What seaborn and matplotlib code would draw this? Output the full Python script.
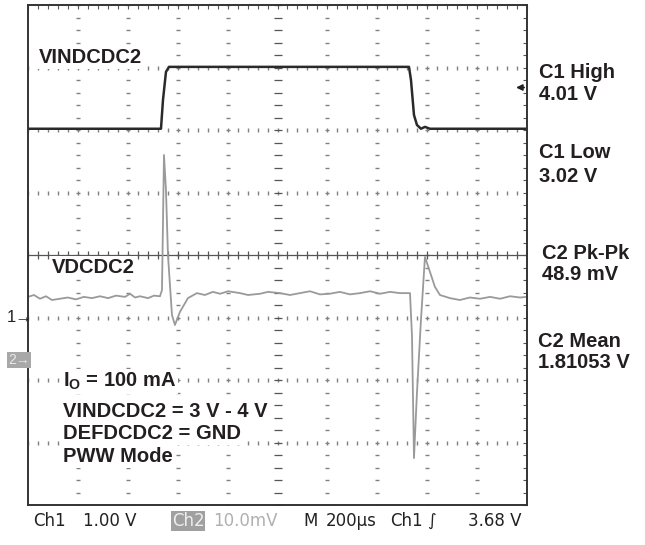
import matplotlib
matplotlib.use("Agg")
import matplotlib.pyplot as plt
import numpy as np
import pandas as pd
import seaborn as sns

# time base: 200 us/div, 10 div across the screen
t_lim = [0, 2000]
div_lim = [-4, 4]

# Ch1 - VINDCDC2 (volts), 1 V/div, ground marker at -1 div
ch1_t = [0, 533, 541, 553, 565, 589, 1527, 1535, 1547, 1559, 1575, 1591, 1611, 2000]
ch1_v = [3.02, 3.02, 3.48, 3.93, 4.01, 4.01, 4.01, 3.80, 3.24, 3.08, 3.02, 3.05, 3.02, 3.02]
ch1_volt_per_div = 1.0
ch1_ground_div = -1.0

# Ch2 - VDCDC2 (mV relative to screen centre), 10 mV/div
ch2_t = [0, 24, 48, 72, 96, 128, 160, 192, 224, 256, 289, 321, 353, 389, 409, 429, 449,
         481, 505, 529, 537, 545, 553, 561, 577, 589, 609,
         641, 677, 709, 741, 770, 802, 850, 882, 930, 962, 1010, 1050, 1090, 1130, 1170, 1210,
         1250, 1290, 1331, 1371, 1411, 1451, 1491, 1523, 1531, 1539, 1547,
         1559, 1575, 1591, 1611, 1631, 1651, 1691, 1731, 1771, 1812, 1852, 1892, 1932, 1972, 2000]
ch2_mv = [-6.7, -6.4, -7.0, -6.6, -7.2, -7.0, -6.8, -7.1, -6.7, -6.9, -6.6, -6.9, -6.5, -6.7, -6.2, -6.8, -6.6,
          -6.9, -6.5, -6.6, -5.6, 16.0, 10.4, 0.0, -9.6, -11.2, -9.1,
          -6.9, -6.1, -6.4, -5.9, -6.2, -5.8, -6.1, -6.4, -6.2, -5.9, -6.1, -6.4, -6.1, -5.8, -6.3, -6.2,
          -5.9, -6.3, -6.1, -5.8, -6.2, -5.9, -6.1, -6.1, -6.1, -12.9, -32.5,
          -22.0, -10.4, -0.3, -2.7, -5.1, -6.4, -6.9, -7.2, -6.8, -7.0, -6.7, -7.0, -6.6, -6.8, -6.7]
ch2_mv_per_div = 10.0

trigger_v = 3.68

meas_labels = ["C1 High", "4.01 V", "C1 Low", "3.02 V", "C2 Pk-Pk", "48.9 mV", "C2 Mean", "1.81053 V"]
info_lines = ["VINDCDC2 = 3 V - 4 V", "DEFDCDC2 = GND", "PWW Mode"]

sns.set_style("white")
plt.rcParams["font.family"] = ["Liberation Sans", "DejaVu Sans"]
plt.rcParams["mathtext.fontset"] = "custom"
plt.rcParams["mathtext.bf"] = "Liberation Sans:bold"
plt.rcParams["mathtext.rm"] = "Liberation Sans:bold"

W, H = 645, 545
fig = plt.figure(figsize=(6.45, 5.45), dpi=100)
ax = fig.add_axes([28 / W, 40 / H, 499 / W, 500 / H])

df1 = pd.DataFrame({"t": ch1_t, "div": np.array(ch1_v) / ch1_volt_per_div + ch1_ground_div})
df2 = pd.DataFrame({"t": ch2_t, "div": np.array(ch2_mv) / ch2_mv_per_div})

# graticule
grid_col = "#808080"
xs_fine = np.arange(0, 2001, 40)
ys_fine = np.arange(-4, 4.01, 0.2)
for gx in range(200, 2000, 200):
    if gx == 1000:
        continue
    ax.plot(np.full_like(ys_fine, gx), ys_fine, ls="none", marker="_", ms=3, mew=1.0, color=grid_col)
for gy in range(-3, 4):
    if gy == 0:
        continue
    ax.plot(xs_fine, np.full_like(xs_fine, gy, dtype=float), ls="none", marker="|", ms=3, mew=1.0, color=grid_col)
ax.axhline(0, color="#555555", lw=0.9)
ax.plot(xs_fine, np.zeros_like(xs_fine, dtype=float), ls="none", marker="|", ms=6, mew=0.9, color="#555555")
ax.plot(np.full_like(ys_fine, 1000), ys_fine, ls="none", marker="_", ms=6, mew=0.9, color="#555555")

sns.lineplot(data=df2, x="t", y="div", ax=ax, color="#9a9a9a", lw=1.3, estimator=None, sort=False)
sns.lineplot(data=df1, x="t", y="div", ax=ax, color="#2a2a2a", lw=1.8, estimator=None, sort=False)

# trigger level arrow on the right edge
trig_div = trigger_v / ch1_volt_per_div + ch1_ground_div
ax.annotate("", xy=(1945, trig_div), xytext=(2000, trig_div),
            arrowprops=dict(arrowstyle="-|>", color="#222222", lw=1.2, mutation_scale=9))

ax.set_xlim(t_lim)
ax.set_ylim(div_lim)
ax.set_xticks(xs_fine)
ax.set_yticks(ys_fine)
ax.tick_params(direction="in", length=3, width=0.8, color="#555555", top=True, right=True,
               labelbottom=False, labelleft=False)
ax.set_xlabel("")
ax.set_ylabel("")
for s in ax.spines.values():
    s.set_color("#333333")
    s.set_linewidth(1.4)

bold = dict(fontsize=14.5, fontweight="bold", color="#231f20")
box = dict(facecolor="white", edgecolor="none", pad=1.5)

def ax_txt(xp, yp, s, **kw):
    ax.text((xp - 28) / 499, (505 - yp) / 500, s, transform=ax.transAxes, va="baseline", ha="left",
            bbox=box, **bold, **kw)

ax_txt(39, 63, "VINDCDC2")
ax_txt(52, 273, "VDCDC2")
ax_txt(63, 387, r"I$_\mathbf{O}$ = 100 mA")
for line, yb in zip(info_lines, [417, 439, 462]):
    ax_txt(63, yb, line)

# measurement readouts
meas_pos = [(539, 78), (539, 100), (539, 158), (539, 182), (542, 259), (542, 280), (538, 347), (538, 368)]
for s, (xp, yp) in zip(meas_labels, meas_pos):
    fig.text(xp / W, 1 - yp / H, s, va="baseline", ha="left", **bold)

# channel markers
fig.text(7 / W, 1 - 317 / H, "1\u2192", va="center", ha="left", fontsize=12, color="#222222")
fig.text(8 / W, 1 - 360 / H, "2\u2192", va="center", ha="left", fontsize=10, color="#e8e8e8",
         bbox=dict(facecolor="#a8a8a8", edgecolor="none", pad=0.8))

# status line
narrow = ["Liberation Sans Narrow", "DejaVu Sans"]
status = [(33, "Ch1", "#222222", None), (83, "1.00 V", "#222222", None),
          (172, "Ch2", "#eeeeee", "#a0a0a0"), (213, "10.0mV", "#b0b0b0", None),
          (303, "M", "#222222", None), (326, "200\u00b5s", "#222222", None),
          (390, "Ch1", "#222222", None), (427, "\u222b", "#222222", None),
          (468, "3.68 V", "#222222", None)]
for xp, s, c, bg in status:
    kw = {}
    if bg:
        kw["bbox"] = dict(facecolor=bg, edgecolor="none", pad=0.6)
    fig.text(xp / W, 1 - 526 / H, s, va="baseline", ha="left", fontsize=12, color=c,
             family=narrow, **kw)

fig.savefig("out.png", dpi=100, facecolor="white")
